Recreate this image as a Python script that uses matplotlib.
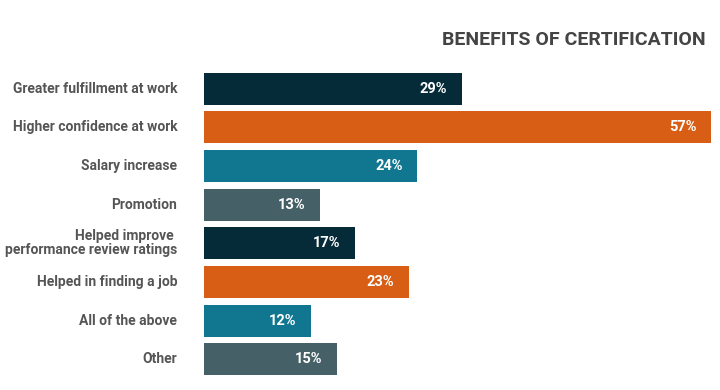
import matplotlib
matplotlib.use("Agg")
import matplotlib.pyplot as plt

categories = ["Greater fulfillment at work", "Higher confidence at work", "Salary increase",
              "Promotion", "Helped improve \nperformance review ratings", "Helped in finding a job",
              "All of the above", "Other"]
values = [29, 57, 24, 13, 17, 23, 12, 15]
colors = ["#062B38", "#D75E14", "#117791", "#466068", "#062B38", "#D75E14", "#117791", "#466068"]
title = "BENEFITS OF CERTIFICATION"

FONT = ['Roboto', 'DejaVu Sans']
W, H = 720, 390
fig = plt.figure(figsize=(W/100, H/100), dpi=100)
ax = fig.add_axes([204/W, 1-378.5/H, (711-204)/W, (378.5-69.5)/H])
y = list(range(len(categories)))
ax.barh(y, values, height=0.83, color=colors)
ax.set_xlim(0, 57)
ax.set_ylim(len(categories)-0.5, -0.5)
ax.axis('off')
for i, (v, c) in enumerate(zip(values, categories)):
    ax.text(v - 1.65, i, f"{v}%", ha='right', va='center', color='white', fontsize=10.5, fontweight='bold', family=FONT)
    ax.text(-3.0, i, c, ha='right', va='center', color='#555555', fontsize=10, fontweight='bold', family=FONT, linespacing=1.0)
fig.text(706/W, 1-40/H, title, ha='right', va='center', color='#444444', fontsize=14, fontweight='bold', family=FONT)
fig.savefig("out.png", dpi=100)
